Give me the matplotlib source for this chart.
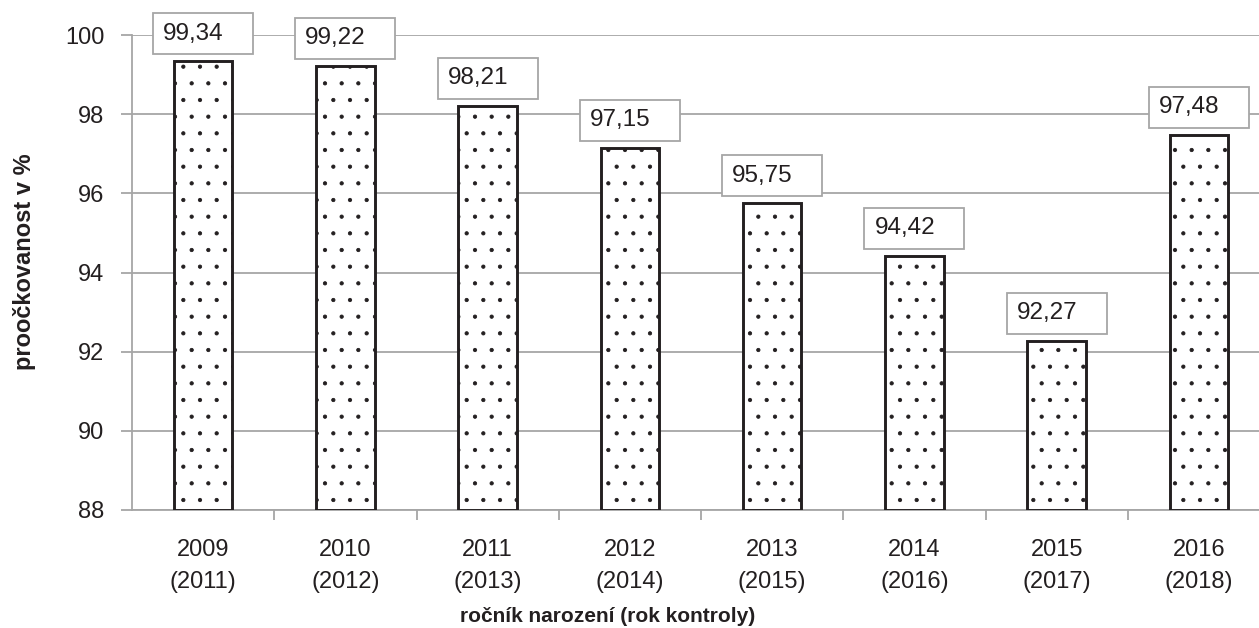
import matplotlib.pyplot as plt
import matplotlib.transforms as mtransforms
from matplotlib.patches import Rectangle
import numpy as np

birth_years = ["2009", "2010", "2011", "2012", "2013", "2014", "2015", "2016"]
check_years = ["2011", "2012", "2013", "2014", "2015", "2016", "2017", "2018"]
coverage = [99.34, 99.22, 98.21, 97.15, 95.75, 94.42, 92.27, 97.48]

plt.rcParams["font.family"] = ["Liberation Sans", "DejaVu Sans"]
plt.rcParams["hatch.linewidth"] = 0.6
plt.rcParams["hatch.color"] = "#231f20"

text_color = "#231f20"
grid_color = "#a6a6a6"

fig = plt.figure(figsize=(12.59, 6.28), dpi=100)
ax = fig.add_axes([132 / 1259, 118 / 628, 1138 / 1259, 475 / 628])

x = np.arange(len(coverage))
base = 88
ax.bar(x, np.array(coverage) - base, bottom=base, width=0.41, color="white",
       edgecolor=text_color, linewidth=2.1, hatch=".", zorder=3)

ax.set_xlim(-0.5, len(coverage) - 0.5)
ax.set_ylim(88, 100)
ax.set_yticks(np.arange(88, 101, 2))
ax.yaxis.grid(True, color=grid_color, linewidth=1.3, zorder=0)
ax.set_axisbelow(True)

ax.set_xticks(x)
ax.set_xticklabels([f"{b}\n({c})" for b, c in zip(birth_years, check_years)],
                   fontsize=17, color=text_color, linespacing=1.6)
ax.set_xticks(np.arange(0.5, len(coverage) - 0.5, 1), minor=True)
ax.tick_params(axis="x", which="major", length=0, pad=21)
ax.tick_params(axis="x", which="minor", length=7, width=1.3, color=grid_color)
ax.tick_params(axis="y", length=8, width=1.3, color=grid_color,
               labelsize=17, labelcolor=text_color, pad=12)

for side in ["top", "right"]:
    ax.spines[side].set_visible(False)
for side in ["left", "bottom"]:
    ax.spines[side].set_color(grid_color)
    ax.spines[side].set_linewidth(1.3)

# value labels in boxes above the bars
for xi, val in zip(x, coverage):
    trans = fig.dpi_scale_trans + mtransforms.ScaledTranslation(xi, val, ax.transData)
    ax.add_patch(Rectangle((-0.5, 0.07), 1.0, 0.41, transform=trans, facecolor="white",
                           edgecolor=grid_color, linewidth=1.3, zorder=4, clip_on=False))
    ax.text(-0.40, 0.07 + 0.205, f"{val:.2f}".replace(".", ","), transform=trans,
            ha="left", va="center", fontsize=17.5, color=text_color, zorder=5)

fig.text(25 / 1259, 1 - 262 / 628, "proočkovanost v %", rotation=90, ha="center",
         va="center", fontsize=17, fontweight="bold", color=text_color)
fig.text(608 / 1259, 1 - 617 / 628, "ročník narození (rok kontroly)", ha="center",
         va="center", fontsize=15, fontweight="bold", color=text_color)

fig.savefig("out.png", dpi=100)
